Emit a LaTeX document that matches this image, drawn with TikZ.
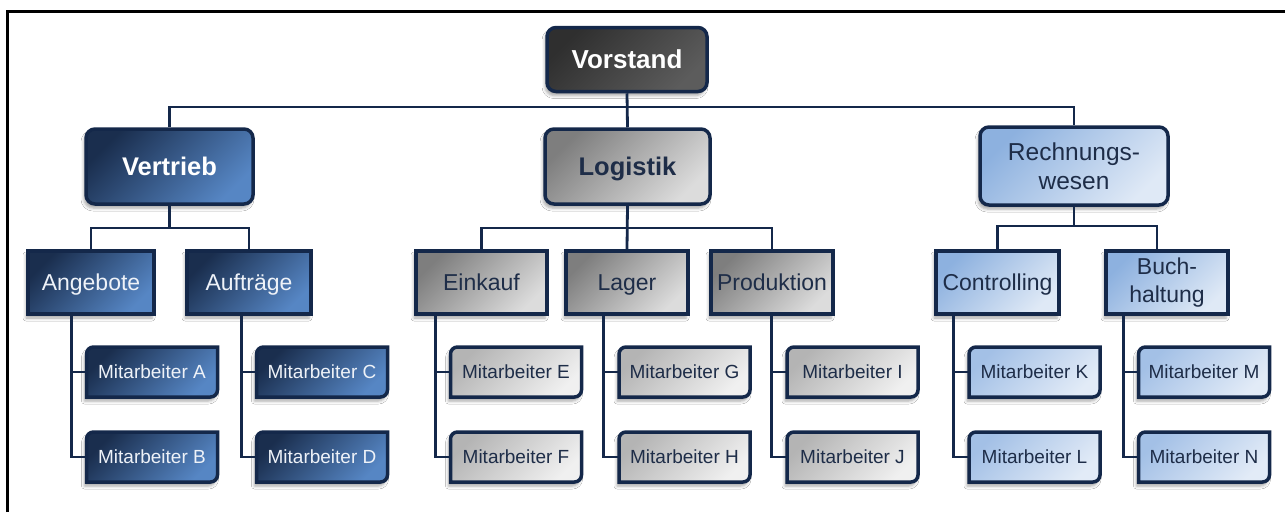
\documentclass[tikz,border=0pt]{standalone}
\usepackage{fontspec}
\setmainfont{Liberation Sans}
\usetikzlibrary{shadows.blur}

\definecolor{edge}{HTML}{14284A}
\definecolor{vorA}{HTML}{2F2F2F}
\definecolor{vorB}{HTML}{5C5C5C}
\definecolor{navyA}{HTML}{1A2E4E}
\definecolor{navyB}{HTML}{5686C4}
\definecolor{greyA}{HTML}{7E7E7E}
\definecolor{greyB}{HTML}{DCDCDC}
\definecolor{greyC}{HTML}{B4B4B4}
\definecolor{greyD}{HTML}{F0F0F0}
\definecolor{blueA}{HTML}{8DB1DF}
\definecolor{blueB}{HTML}{DFE9F6}
\definecolor{blueC}{HTML}{A3C0E6}
\definecolor{blueD}{HTML}{E2EBF7}
\definecolor{inkdark}{HTML}{1E2D48}
\definecolor{inklight}{HTML}{EEF2F8}

% staff box: rounded top-left and bottom-right corners
\newcommand\staffbox[5]{%
  \path[staffshape,#5] (#2-65.5,#3-25) -- (#2-65.5,#3+25-7)
    arc[start angle=180,end angle=90,radius=7] -- (#2+65.5,#3+25)
    -- (#2+65.5,#3-25+7) arc[start angle=0,end angle=-90,radius=7] -- cycle;
  \node[staffnode,#5text] (#1) at (#2,#3) {#4};
}

\begin{document}
\begin{tikzpicture}[x=1pt,y=1pt,
  softshadow/.style={blur shadow={shadow xshift=-2pt,shadow yshift=-4pt,
      shadow blur radius=3pt,shadow opacity=35}},
  box/.style={draw=edge,line width=3.5pt,inner sep=0pt,align=center,softshadow},
  % capital letters centred in the box
  caps/.style={text height=#1,text depth=0pt},
  headbox/.style={box,rounded corners=9pt,minimum height=75pt,
      font=\fontsize{24.5pt}{29pt}\selectfont},
  headbold/.style={font=\fontsize{25.5pt}{30pt}\selectfont\bfseries,caps=18.3pt},
  unitbox/.style={box,minimum height=63pt,
      font=\fontsize{23pt}{27.5pt}\selectfont},
  unitline/.style={caps=16.5pt},
  staffshape/.style={draw=edge,line width=3.5pt,softshadow},
  staffnode/.style={minimum width=131pt,minimum height=50pt,inner sep=0pt,
      font=\fontsize{19pt}{22pt}\selectfont,caps=13.6pt},
  conn/.style={draw=edge,line width=2.8pt},
  vorfill/.style={top color=vorA,bottom color=vorB,shading angle=45},
  navyfill/.style={top color=navyA,bottom color=navyB,shading angle=45},
  greyfill/.style={top color=greyA,bottom color=greyB,shading angle=45},
  bluefill/.style={top color=blueA,bottom color=blueB,shading angle=45},
  navystaff/.style={top color=navyA,bottom color=navyB,shading angle=45},
  greystaff/.style={top color=greyC,bottom color=greyD,shading angle=45},
  bluestaff/.style={top color=blueC,bottom color=blueD,shading angle=45},
  navystafftext/.style={text=inklight},
  greystafftext/.style={text=inkdark},
  bluestafftext/.style={text=inkdark}]

\useasboundingbox (0,0) rectangle (1285,-512);
\fill[white] (0,0) rectangle (1285,-512);

% frame
\draw[line width=3pt,black] (7,-512) -- (7,-11.5) -- (1285,-11.5);

% top
\node[box,vorfill,rounded corners=9pt,minimum width=160pt,minimum height=64pt,
  font=\fontsize{26pt}{30pt}\selectfont\bfseries,caps=18.6pt,text=white] (vor) at (627,-59.5) {Vorstand};

% departments
\node[headbox,navyfill,minimum width=167pt,headbold,text=white]
  (vert) at (169.5,-166.5) {Vertrieb};
\node[headbox,greyfill,minimum width=165pt,headbold,text=inkdark]
  (log) at (627.5,-166.5) {Logistik};
\node[headbox,bluefill,minimum width=188pt,minimum height=78pt,text=inkdark]
  (rw) at (1074,-166) {Rechnungs-\\wesen};

% units
\node[unitbox,unitline,navyfill,minimum width=126pt,text=inklight] (ang) at (91,-282.5) {Angebote};
\node[unitbox,unitline,navyfill,minimum width=124pt,text=inklight] (auf) at (249,-282.5) {Aufträge};
\node[unitbox,unitline,greyfill,minimum width=131pt,text=inkdark] (ein) at (481.5,-282.5) {Einkauf};
\node[unitbox,unitline,greyfill,minimum width=122pt,text=inkdark] (lag) at (627,-282.5) {Lager};
\node[unitbox,unitline,greyfill,minimum width=122pt,text=inkdark] (prod) at (772,-282.5) {Produktion};
\node[unitbox,unitline,bluefill,minimum width=123pt,text=inkdark] (con) at (997.5,-282.5) {Controlling};
\node[unitbox,bluefill,minimum width=122pt,text=inkdark] (buch) at (1167,-282.5) {Buch-\\haltung};

% staff
\staffbox{mA}{152}{-372}{Mitarbeiter A}{navystaff}
\staffbox{mB}{152}{-457}{Mitarbeiter B}{navystaff}
\staffbox{mC}{322}{-372}{Mitarbeiter C}{navystaff}
\staffbox{mD}{322}{-457}{Mitarbeiter D}{navystaff}
\staffbox{mE}{516}{-372}{Mitarbeiter E}{greystaff}
\staffbox{mF}{516}{-457}{Mitarbeiter F}{greystaff}
\staffbox{mG}{684.5}{-372}{Mitarbeiter G}{greystaff}
\staffbox{mH}{684.5}{-457}{Mitarbeiter H}{greystaff}
\staffbox{mI}{852.5}{-372}{Mitarbeiter I}{greystaff}
\staffbox{mJ}{852.5}{-457}{Mitarbeiter J}{greystaff}
\staffbox{mK}{1034.5}{-372}{Mitarbeiter K}{bluestaff}
\staffbox{mL}{1034.5}{-457}{Mitarbeiter L}{bluestaff}
\staffbox{mM}{1204}{-372}{Mitarbeiter M}{bluestaff}
\staffbox{mN}{1204}{-457}{Mitarbeiter N}{bluestaff}

% connectors: board to departments
\coordinate (b0) at (627,-107);
\draw[conn] (vor.south) -- (log.north);
\draw[conn] (vert.north) |- (b0) -| (rw.north);

% departments to units
\coordinate (b1) at (169.5,-228);
\draw[conn] (vert.south) -- (b1);
\draw[conn] (ang.north) |- (b1) -| (auf.north);
\coordinate (b2) at (627,-228);
\draw[conn] (log.south) -- (lag.north);
\draw[conn] (ein.north) |- (b2) -| (prod.north);
\coordinate (b3) at (1074,-226);
\coordinate (buchtop) at ([xshift=-10pt]buch.north);
\draw[conn] (rw.south) -- (b3);
\draw[conn] (con.north) |- (b3) -| (buchtop);

% units to staff
\foreach \p/\a/\b in {ang/A/B,auf/C/D,ein/E/F,lag/G/H,prod/I/J,con/K/L,buch/M/N}{
  \coordinate (t\a) at ([xshift=-15pt]m\a.west);
  \draw[conn] (\p.south -| t\a) |- (m\b.west);
  \draw[conn] (t\a) -- (m\a.west);
}
\end{tikzpicture}
\end{document}
